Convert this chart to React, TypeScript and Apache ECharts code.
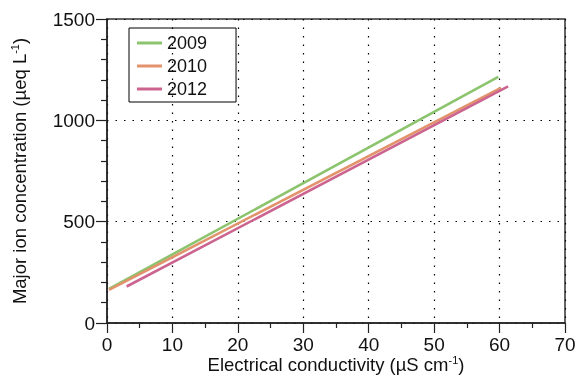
import React, { useEffect, useRef } from "react";
import * as echarts from "echarts";

const seriesNames = ["2009", "2010", "2012"];
const line2009: [number, number][] = [[0.3, 168], [59.8, 1214]];
const line2010: [number, number][] = [[0.3, 163], [60.2, 1160]];
const line2012: [number, number][] = [[3.0, 180], [61.3, 1168]];
const colors = ["#8cc46e", "#e2936c", "#cc6490"];

export default function App() {
  const ref = useRef<HTMLDivElement>(null);
  useEffect(() => {
    const chart = echarts.init(ref.current!, null, { renderer: "svg" });
    const font = "Liberation Sans, Arial, Helvetica, sans-serif";
    const datas = [line2009, line2010, line2012];
    const rich = {
      a: { fontSize: 18.5, color: "#111", fontFamily: font, lineHeight: 20, verticalAlign: "bottom" },
      s: { fontSize: 11, color: "#111", fontFamily: font, lineHeight: 20, verticalAlign: "top" },
    };
    chart.setOption({
      animation: false,
      textStyle: { fontFamily: font },
      grid: {
        left: 107, right: 12, top: 19, bottom: 55,
        outerBoundsMode: "none", containLabel: false,
        show: true, borderColor: "#333", borderWidth: 1.5,
      },
      legend: {
        orient: "vertical",
        left: 129,
        top: 28,
        data: seriesNames,
        icon: "rect",
        itemWidth: 25,
        itemHeight: 3,
        itemGap: 5,
        padding: [6, 29, 4, 8],
        borderColor: "#000",
        borderWidth: 1,
        textStyle: { fontSize: 18, color: "#111", fontFamily: font },
      },
      xAxis: {
        type: "value",
        min: 0,
        max: 70,
        interval: 10,
        name: "{a|Electrical conductivity (µS cm}{s|-1}{a|)}",
        nameLocation: "middle",
        nameGap: 31,
        nameMoveOverlap: false,
        nameTextStyle: { rich },
        axisLine: { lineStyle: { color: "#222", width: 1.5 } },
        axisTick: { length: 10, lineStyle: { color: "#222", width: 1.2 } },
        minorTick: { show: true, splitNumber: 2, length: 5, lineStyle: { color: "#222", width: 1.2 } },
        axisLabel: { fontSize: 19, color: "#111", margin: 12, fontFamily: font },
        splitLine: { show: true, lineStyle: { color: "#000", type: [1.5, 7], width: 1.2 } },
      },
      yAxis: {
        type: "value",
        min: 0,
        max: 1500,
        interval: 500,
        name: "{a|Major ion concentration (µeq L}{s|-1}{a|)}",
        nameLocation: "middle",
        nameGap: 78,
        nameTextStyle: { rich },
        axisLine: { show: true, lineStyle: { color: "#222", width: 1.5 } },
        axisTick: { show: true, length: 11, lineStyle: { color: "#222", width: 1.2 } },
        minorTick: { show: true, splitNumber: 5, length: 6, lineStyle: { color: "#222", width: 1.2 } },
        axisLabel: { fontSize: 19, color: "#111", margin: 12, fontFamily: font, formatter: (v: number) => String(v) },
        splitLine: { show: true, lineStyle: { color: "#000", type: [1.5, 7], width: 1.2 } },
      },
      series: seriesNames.map((n, i) => ({
        name: n,
        type: "line",
        data: datas[i],
        showSymbol: false,
        symbol: "none",
        color: colors[i],
        lineStyle: { width: 2.6, color: colors[i] },
      })),
    });
    return () => chart.dispose();
  }, []);
  return <div ref={ref} style={{ position: "fixed", left: 0, top: 0, width: 577, height: 378 }} />;
}
